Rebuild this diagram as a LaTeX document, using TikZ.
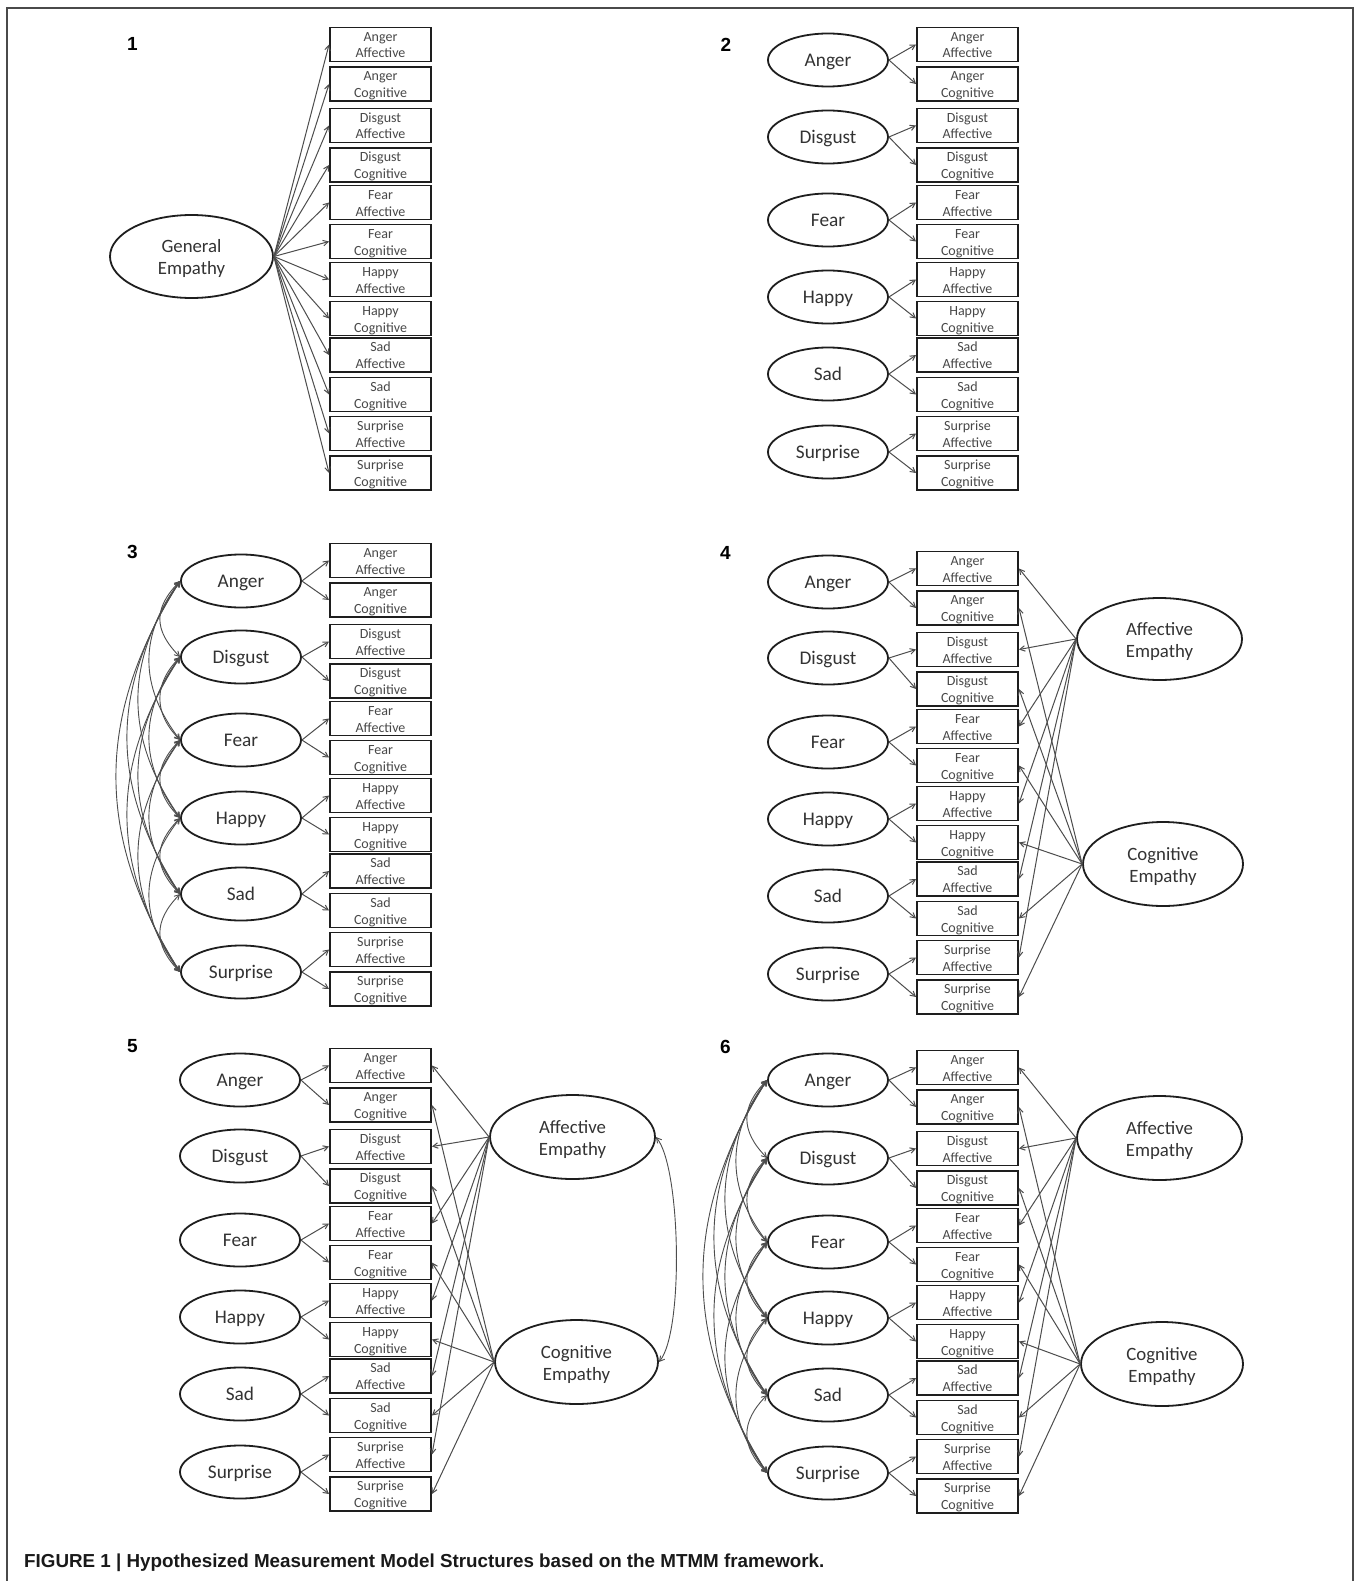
\documentclass[tikz,border=0pt]{standalone}
\usepackage{fontspec}
\setmainfont{Carlito}
\newfontfamily\numfont{Liberation Sans}
\usetikzlibrary{arrows.meta,shapes.geometric}

\definecolor{framegray}{HTML}{4A4A4A}
\definecolor{ink}{HTML}{1E1E1E}
\definecolor{wire}{HTML}{4D4D4D}
\definecolor{boxtext}{HTML}{484848}
\definecolor{ovaltext}{HTML}{333333}

% fixed line struts so every two-line label sits the same way in its shape
\newcommand\boxstrut{\rule[-3.1pt]{0pt}{16.6pt}}
\newcommand\ovalstrut{\rule[-4pt]{0pt}{22.3pt}}

\tikzset{
  barb/.tip={Straight Barb[length=5pt,width=5.5pt]},
  indicator/.style={draw=ink, line width=1.9pt, rectangle, minimum width=101pt,
    minimum height=34pt, inner sep=0pt, align=center, text=boxtext,
    font=\fontsize{14}{16.6}\selectfont},
  emotion/.style={draw=ink, line width=1.8pt, ellipse, minimum width=120pt,
    minimum height=53pt, inner sep=0pt, text=ovaltext,
    font=\fontsize{19.3}{22}\selectfont, text height=16pt, text depth=3.4pt},
  factor/.style={draw=ink, line width=1.8pt, ellipse, inner sep=0pt,
    align=center, text=ovaltext, font=\fontsize{18.8}{22.3}\selectfont},
  load/.style={draw=wire, line width=1pt, -barb},
  covar/.style={draw=wire, line width=0.9pt, barb-barb},
  panelno/.style={inner sep=0pt, font=\numfont\bfseries\fontsize{19}{22}\selectfont},
}

% column of the twelve observed indicators: name prefix, x centre, y offset
\newcommand\indicatorcolumn[3]{%
  \foreach \rr/\yy/\emo/\kind in {1/44.5/Anger/Affective, 2/84/Anger/Cognitive,
      3/125.5/Disgust/Affective, 4/165/Disgust/Cognitive,
      5/202.5/Fear/Affective, 6/241.5/Fear/Cognitive,
      7/279.5/Happy/Affective, 8/318.5/Happy/Cognitive,
      9/355/Sad/Affective, 10/394.5/Sad/Cognitive,
      11/433.5/Surprise/Affective, 12/473/Surprise/Cognitive}{
    \node[indicator] (#1b\rr) at (#2,\yy+#3) {\boxstrut\emo\\\boxstrut\kind};
  }%
}

% six emotion factors with their two loadings each: prefix, x, six y centres
\newcommand\emotioncolumn[8]{%
  \foreach \rr/\nm/\yy in {1/Anger/#3,2/Disgust/#4,3/Fear/#5,4/Happy/#6,5/Sad/#7,6/Surprise/#8}{
    \node[emotion] (#1e\rr) at (#2,\yy) {\nm};
  }%
  \foreach \rr in {1,...,6}{
    \pgfmathtruncatemacro\ia{2*\rr-1}
    \pgfmathtruncatemacro\ib{2*\rr}
    \draw[load] (#1e\rr.east) -- (#1b\ia.west);
    \draw[load] (#1e\rr.east) -- (#1b\ib.west);
  }%
}

% all pairwise covariances among the emotion factors
\newcommand\emotioncovariances[1]{%
  \foreach \ci/\cj in {1/2,1/3,1/4,1/5,1/6,2/3,2/4,2/5,2/6,3/4,3/5,3/6,4/5,4/6,5/6}{
    \pgfmathsetmacro\bow{(20+11*(\cj-\ci-1))/0.75}
    \pgfmathsetmacro\lift{27*(\cj-\ci)}
    \draw[covar] (#1e\ci.west) .. controls +(-\bow,\lift) and +(-\bow,-\lift) .. (#1e\cj.west);
  }%
}

% method factors: affective to odd indicators, cognitive to even ones
\newcommand\methodloadings[1]{%
  \foreach \ka in {1,3,...,11}{\draw[load] (#1aff.west) -- (#1b\ka.east);}
  \foreach \kb in {2,4,...,12}{\draw[load] (#1cog.west) -- (#1b\kb.east);}
}

\begin{document}
\begin{tikzpicture}[x=1pt,y=-1pt]
\useasboundingbox (0,0) rectangle (1356,1581);
\fill[white] (0,0) rectangle (1356,1581);
\draw[framegray, line width=1.6pt] (7,1581) -- (7,8) -- (1353,8) -- (1353,1581);

% ---- model 1: one general factor
\node[panelno] (n1) at (132.5,44) {1};
\indicatorcolumn{p1}{380.5}{0}
\node[factor, minimum width=163pt, minimum height=83pt] (p1gen) at (191.5,256.5)
  {\ovalstrut General\\\ovalstrut Empathy};
\foreach \rr in {1,...,12}{\draw[load] (p1gen.east) -- (p1b\rr.west);}

% ---- model 2: uncorrelated emotion factors
\node[panelno] (n2) at (726,45) {2};
\indicatorcolumn{p2}{967.5}{0}
\emotioncolumn{p2}{828}{60}{137}{220}{297}{374}{452}

% ---- model 3: correlated emotion factors
\node[panelno] (n3) at (132.5,552) {3};
\indicatorcolumn{p3}{380.5}{516}
\emotioncolumn{p3}{241}{581}{657}{740}{818}{894}{972}
\emotioncovariances{p3}

% ---- model 4: emotion factors plus method factors
\node[panelno] (n4) at (725.5,553) {4};
\indicatorcolumn{p4}{967.5}{524}
\emotioncolumn{p4}{828}{582}{658}{742}{819}{896}{974}
\node[factor, minimum width=165pt, minimum height=82pt] (p4aff) at (1159.5,639)
  {\ovalstrut Affective\\\ovalstrut Empathy};
\node[factor, minimum width=160pt, minimum height=84pt] (p4cog) at (1163,864)
  {\ovalstrut Cognitive\\\ovalstrut Empathy};
\methodloadings{p4}

% ---- model 5: correlated method factors
\node[panelno] (n5) at (132.5,1046) {5};
\indicatorcolumn{p5}{380.5}{1021}
\emotioncolumn{p5}{240}{1080}{1156}{1240}{1317}{1394}{1472}
\node[factor, minimum width=165pt, minimum height=84pt] (p5aff) at (572.5,1137)
  {\ovalstrut Affective\\\ovalstrut Empathy};
\node[factor, minimum width=163pt, minimum height=84pt] (p5cog) at (576.5,1362)
  {\ovalstrut Cognitive\\\ovalstrut Empathy};
\methodloadings{p5}
\draw[covar] (p5aff.east) .. controls +(25,30) and +(25,-30) .. (p5cog.east);

% ---- model 6: correlated emotion factors plus method factors
\node[panelno] (n6) at (725.5,1047) {6};
\indicatorcolumn{p6}{967.5}{1023}
\emotioncolumn{p6}{828}{1080}{1158}{1242}{1318}{1395}{1473}
\emotioncovariances{p6}
\node[factor, minimum width=165pt, minimum height=84pt] (p6aff) at (1159.5,1138)
  {\ovalstrut Affective\\\ovalstrut Empathy};
\node[factor, minimum width=162pt, minimum height=84pt] (p6cog) at (1162,1364)
  {\ovalstrut Cognitive\\\ovalstrut Empathy};
\methodloadings{p6}

% ---- caption
\node[anchor=base west, inner sep=0pt, text=black!90,
      font=\numfont\bfseries\fontsize{18.8}{22}\selectfont] (caption) at (24,1567)
  {FIGURE 1 | Hypothesized Measurement Model Structures based on the MTMM framework.};
\end{tikzpicture}
\end{document}
